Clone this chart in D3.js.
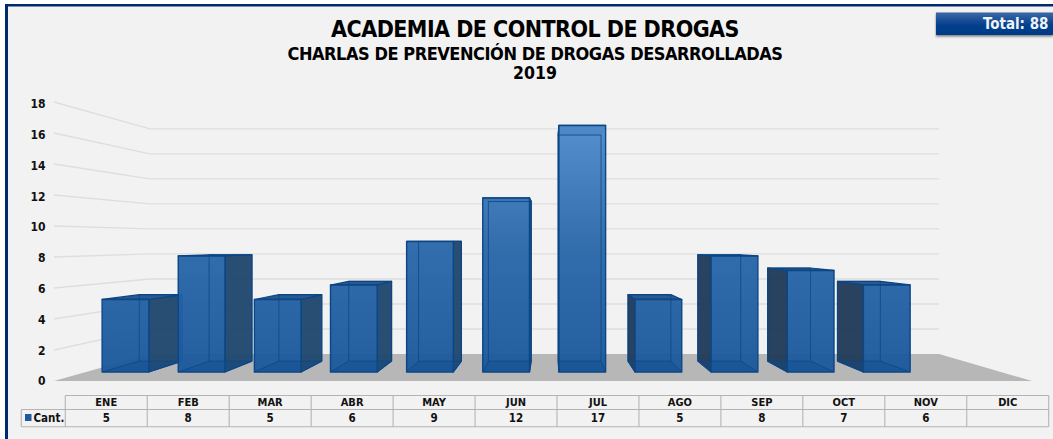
<!DOCTYPE html>
<html><head><meta charset="utf-8">
<script src="https://cdn.jsdelivr.net/npm/d3@7"></script>
<style>
html,body{margin:0;padding:0;background:#fff;overflow:hidden}
text{font-family:"DejaVu Sans",sans-serif;font-stretch:condensed;font-weight:700;fill:#111}
</style></head><body><svg id="c" width="1053" height="439"></svg>
<script>
const months=["ENE","FEB","MAR","ABR","MAY","JUN","JUL","AGO","SEP","OCT","NOV","DIC"];
const cant=[5,8,5,6,9,12,17,5,8,7,6,null];
const yTicks=[0,2,4,6,8,10,12,14,16,18];
const titleLines=["ACADEMIA DE CONTROL DE DROGAS","CHARLAS DE PREVENCIÓN DE DROGAS DESARROLLADAS","2019"];
const seriesName="Cant.";
const totalLabel="Total: 88";

const svg=d3.select("#c");
const defs=svg.append("defs");

// perspective camera
const vp={x:550.5,y:241}, backScale=0.807;
const sFront=0.9355, sBack=0.858;
const yWorld=d3.scaleLinear().domain([0,18]).range([381,102]);
const xWorld=d3.scaleBand().domain(months).range([55.5,1032]).paddingInner(0.386).paddingOuter(0.193);
const project=(X,v,s)=>[vp.x+(X-vp.x)*s, vp.y+(yWorld(v)-vp.y)*s];
const poly=d3.line();
const closed=p=>poly(p)+"Z";

// background + frame
svg.append("rect").attr("width",1053).attr("height",439).attr("fill","#fff");
svg.append("rect").attr("x",5).attr("y",4).attr("width",1048).attr("height",435).attr("fill","#002a6e");
svg.append("rect").attr("x",8).attr("y",6.5).attr("width",1045).attr("height",432.5).attr("fill","#f2f2f2");

// floor
const L=54,R=1032;
svg.append("path").attr("fill","#b7b7b7")
  .attr("d",closed([project(L,0,1),project(L,0,backScale),project(R,0,backScale),project(R,0,1)]));

// grid
svg.append("g").selectAll("path").data(yTicks.filter(d=>d>0)).join("path")
  .attr("fill","none").attr("stroke","#dedede").attr("stroke-width",1.4)
  .attr("d",d=>poly([project(L,d,1),project(L,d,backScale),project(R,d,backScale)]));

// axis labels
const yLabel=d3.scaleLinear().domain([0,18]).range([381,104]);
svg.append("g").selectAll("text").data(yTicks).join("text")
  .attr("x",45.5).attr("y",d=>yLabel(d)).attr("dy","0.36em").attr("text-anchor","end")
  .attr("font-size",12).text(d=>d);

// bar gradient
const grad=defs.append("linearGradient").attr("id","fg").attr("gradientUnits","userSpaceOnUse")
  .attr("x1",0).attr("x2",0).attr("y1",125).attr("y2",372);
grad.append("stop").attr("offset",0).attr("stop-color","#4f8bcb");
grad.append("stop").attr("offset",0.5).attr("stop-color","#2a67a9");
grad.append("stop").attr("offset",1).attr("stop-color","#1b589c");

// bars, outer ones first
const bars=months.map((m,i)=>({m,v:cant[i]})).filter(d=>d.v!=null)
  .sort((a,b)=>Math.abs(xWorld(b.m)+xWorld.bandwidth()/2-vp.x)-Math.abs(xWorld(a.m)+xWorld.bandwidth()/2-vp.x));
const edge="#0b4685";
const bg=svg.append("g");
bars.forEach(d=>{
  const x0=xWorld(d.m),x1=x0+xWorld.bandwidth(),g=bg.append("g").attr("stroke-linejoin","round");
  const face=(pts,fill,op,sw=1.2)=>g.append("path").attr("d",closed(pts)).attr("fill",fill).attr("fill-opacity",op)
     .attr("stroke",edge).attr("stroke-width",sw);
  const cx=(x0+x1)/2, sx=cx<vp.x?x1:x0, hx=cx<vp.x?x0:x1;
  // visible side, facing the vanishing point
  face([project(sx,0,sFront),project(sx,0,sBack),project(sx,d.v,sBack),project(sx,d.v,sFront)],cx<vp.x?"#214870":"#223c5a",0.97);
  // top
  face([project(x0,d.v,sFront),project(x1,d.v,sFront),project(x1,d.v,sBack),project(x0,d.v,sBack)],d.v>11?"#3f78b8":"#1c5089",0.95);
  // front
  face([project(x0,0,sFront),project(x1,0,sFront),project(x1,d.v,sFront),project(x0,d.v,sFront)],"url(#fg)",0.96,1.4);
  // edges of the far faces, seen through the front
  const through=[
    [project(sx,0,sBack),project(hx,0,sBack)],
    [project(hx,0,sFront),project(hx,0,sBack)],
    [project(sx,0,sFront),project(sx,0,sBack)],
    [project(hx,0,sBack),project(hx,d.v,sBack)],
    [project(sx,0,sBack),project(sx,d.v,sBack)],
    [project(hx,d.v,sBack),project(sx,d.v,sBack)]
  ];
  through.forEach(p=>g.append("path").attr("d",poly(p)).attr("fill","none").attr("stroke",edge).attr("stroke-opacity",0.75).attr("stroke-width",1));
  // floor of the bar, darker through the front
  g.append("path").attr("d",closed([project(x0,0,sFront),project(x1,0,sFront),project(x1,0,sBack),project(x0,0,sBack)]))
    .attr("fill","#0d4a8a").attr("fill-opacity",0.35).attr("stroke","none");
});

// data table
const tx=d3.scaleBand().domain(months).range([65.3,1048.7]);
const rows={top:395.5,mid:409.5,bot:426.7}, keyX=21.3;
const tb=svg.append("g").attr("stroke","#b4b4b4").attr("stroke-width",1.1).attr("fill","none");
tb.append("path").attr("d",poly([[tx.range()[0],rows.top],[tx.range()[1],rows.top]]));
tb.append("path").attr("d",poly([[keyX,rows.mid],[tx.range()[1],rows.mid]]));
tb.append("path").attr("d",poly([[keyX,rows.bot],[tx.range()[1],rows.bot]]));
tb.append("path").attr("d",poly([[keyX,rows.mid],[keyX,rows.bot]]));
tb.append("path").attr("d",poly([[tx.range()[0],rows.top],[tx.range()[0],rows.bot]]));
tb.selectAll("path.c").data(months).join("path").attr("class","c")
  .attr("d",m=>poly([[tx(m)+tx.bandwidth(),rows.top],[tx(m)+tx.bandwidth(),rows.bot]]));
const cx=m=>tx(m)+tx.bandwidth()/2;
svg.append("g").selectAll("text").data(months).join("text")
  .attr("x",cx).attr("y",(rows.top+rows.mid)/2).attr("dy","0.36em").attr("text-anchor","middle")
  .attr("font-size",11).text(d=>d);
svg.append("g").selectAll("text").data(months).join("text")
  .attr("x",cx).attr("y",(rows.mid+rows.bot)/2).attr("dy","0.36em").attr("text-anchor","middle")
  .attr("font-size",11.5).text((m,i)=>cant[i]==null?"":cant[i]);
svg.append("rect").attr("x",25).attr("y",414).attr("width",6.5).attr("height",7).attr("fill","#1f5a9e");
svg.append("text").attr("x",33.5).attr("y",(rows.mid+rows.bot)/2).attr("dy","0.36em").attr("font-size",11.5).text(seriesName);

// titles
const ts=[{y:36.8,s:23,ls:-0.55},{y:60,s:18,ls:-0.45},{y:79.3,s:17.5,ls:0}];
svg.append("g").selectAll("text").data(titleLines).join("text")
  .attr("x",535).attr("y",(d,i)=>ts[i].y).attr("text-anchor","middle")
  .attr("letter-spacing",(d,i)=>ts[i].ls)
  .attr("font-size",(d,i)=>ts[i].s).style("fill","#000").text(d=>d);

// total badge
const bgr=defs.append("linearGradient").attr("id","bd").attr("x1",0).attr("x2",0).attr("y1",0).attr("y2",1);
bgr.append("stop").attr("offset",0).attr("stop-color","#3b69a6");
bgr.append("stop").attr("offset",0.55).attr("stop-color","#053f8c");
bgr.append("stop").attr("offset",1).attr("stop-color","#013a88");
const sh=defs.append("filter").attr("id","sh").attr("x","-5%").attr("y","-20%").attr("width","110%").attr("height","160%");
sh.append("feDropShadow").attr("dx",0).attr("dy",1.5).attr("stdDeviation",1.2).attr("flood-color","#000").attr("flood-opacity",0.5);
svg.append("rect").attr("x",936).attr("y",12.5).attr("width",117).attr("height",22.5).attr("fill","url(#bd)").attr("filter","url(#sh)");
svg.append("text").attr("x",1048.5).attr("y",24).attr("dy","0.36em").attr("text-anchor","end")
  .attr("font-size",15).style("fill","#eef3fa").text(totalLabel);
</script></body></html>
